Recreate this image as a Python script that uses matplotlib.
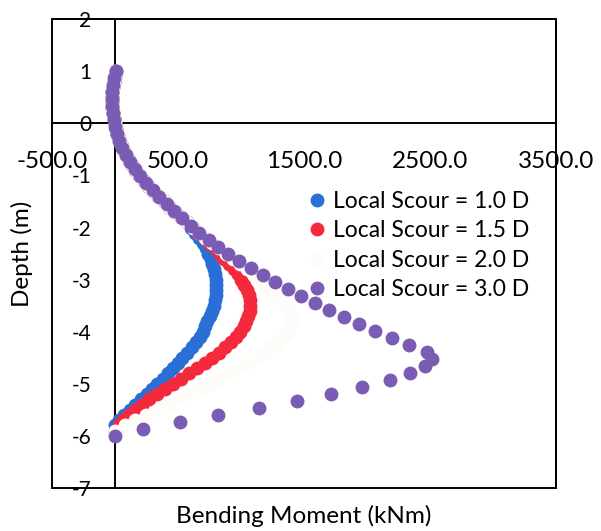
import matplotlib
matplotlib.use("Agg")
import matplotlib.pyplot as plt
from matplotlib.patches import Rectangle

plt.rcParams["font.family"] = ["Lato", "DejaVu Sans"]

# pile nodes (m): 0.1 m mesh for the first three runs, coarser mesh for 3.0 D
depth_fine = [1.0, 0.9, 0.8, 0.7, 0.6, 0.5, 0.4, 0.3, 0.2, 0.1,
              0.0, -0.1, -0.2, -0.3, -0.4, -0.5, -0.6, -0.7, -0.8, -0.9,
              -1.0, -1.1, -1.2, -1.3, -1.4, -1.5, -1.6, -1.7, -1.8, -1.9,
              -2.0, -2.1, -2.2, -2.3, -2.4, -2.5, -2.6, -2.7, -2.8, -2.9,
              -3.0, -3.1, -3.2, -3.3, -3.4, -3.5, -3.6, -3.7, -3.8, -3.9,
              -4.0, -4.1, -4.2, -4.3, -4.4, -4.5, -4.6, -4.7, -4.8, -4.9,
              -5.0, -5.1, -5.2, -5.3, -5.4, -5.5, -5.6, -5.7, -5.8, -5.9]
depth_coarse = [1.000, 0.865, 0.731, 0.596, 0.462, 0.327, 0.192, 0.058, -0.077, -0.212,
                -0.346, -0.481, -0.615, -0.750, -0.885, -1.019, -1.154, -1.288, -1.423, -1.558,
                -1.692, -1.827, -1.962, -2.096, -2.231, -2.365, -2.500, -2.635, -2.769, -2.904,
                -3.038, -3.173, -3.308, -3.442, -3.577, -3.712, -3.846, -3.981, -4.115, -4.250,
                -4.385, -4.519, -4.654, -4.788, -4.923, -5.058, -5.192, -5.327, -5.462, -5.596,
                -5.731, -5.865, -6.000]

# bending moment along the pile (kNm)
moment_10d = [8, -2, -10, -16, -20, -22, -22, -20, -16, -11,
              -3, 5, 15, 28, 44, 62, 84, 108, 134, 162,
              194, 229, 265, 303, 343, 385, 428, 473, 521, 570,
              605, 637, 667, 694, 718, 740, 758, 773, 785, 794,
              800, 803, 804, 800, 793, 782, 768, 752, 733, 711,
              700, 672, 641, 607, 572, 535, 497, 458, 418, 378,
              337, 293, 250, 205, 160, 115, 72, 32, 0]
moment_15d = [8, -2, -10, -16, -20, -22, -22, -20, -16, -11,
              -3, 5, 15, 28, 44, 62, 84, 108, 134, 162,
              194, 229, 265, 303, 343, 385, 428, 473, 521, 570,
              615, 660, 705, 748, 790, 830, 868, 905, 940, 972,
              1000, 1025, 1045, 1060, 1068, 1071, 1068, 1058, 1042, 1020,
              992, 958, 918, 873, 823, 768, 710, 650, 590, 525,
              460, 395, 333, 272, 215, 162, 112, 67, 28, 0]
moment_20d = [8, -2, -10, -16, -20, -22, -22, -20, -16, -11,
              -3, 5, 15, 28, 44, 62, 84, 108, 134, 162,
              194, 229, 265, 303, 343, 385, 428, 473, 521, 570,
              620, 668, 715, 770, 825, 880, 935, 990, 1045, 1095,
              1145, 1192, 1237, 1278, 1315, 1347, 1372, 1388, 1395, 1390,
              1370, 1335, 1290, 1238, 1180, 1118, 1052, 982, 908, 830,
              750, 668, 585, 500, 415, 330, 245, 160, 78, 0]
moment_30d = [8, -5, -14, -20, -22, -21, -16, -8, 3, 16, 35, 58, 87, 120, 158, 200, 248, 298,
              352, 410, 470, 535, 600, 670, 745, 820, 900, 985, 1075, 1175, 1270, 1373, 1476,
              1587, 1698, 1817, 1937, 2063, 2198, 2333, 2476, 2516, 2460, 2341, 2183, 1960,
              1714, 1444, 1143, 817, 516, 222, 0]

series = [
    ("Local Scour = 1.0 D", depth_fine, moment_10d, "#2a6fd6"),
    ("Local Scour = 1.5 D", depth_fine, moment_15d, "#f42a3c"),
    ("Local Scour = 2.0 D", depth_fine, moment_20d, "#fdfcf8"),
    ("Local Scour = 3.0 D", depth_coarse, moment_30d, "#7a5cb4"),
]

x_ticks = [-500, 500, 1500, 2500, 3500]
y_ticks = [2, 1, 0, -1, -2, -3, -4, -5, -6, -7]

fig = plt.figure(figsize=(6.01, 5.31), dpi=100)
ax = fig.add_axes([0.0865, 0.081, 0.839, 0.883])

for label, depth, moment, color in series:
    ax.plot(moment, depth[:len(moment)], linestyle="none", marker="o",
            markersize=10, markeredgewidth=0, color=color, label=label, zorder=3)

ax.set_xlim(-500, 3500)
ax.set_ylim(-7, 2)

# axes cross at the origin, with a box drawn around the plot area
ax.spines["left"].set_position(("data", 0))
ax.spines["bottom"].set_position(("data", 0))
for side in ["left", "bottom", "top", "right"]:
    ax.spines[side].set_linewidth(1.4)
    ax.spines[side].set_color("black")
ax.add_patch(Rectangle((0, 0), 1, 1, transform=ax.transAxes, fill=False,
                       linewidth=1.4, edgecolor="black", clip_on=False, zorder=2))

ax.set_xticks(x_ticks)
ax.set_xticklabels([f"{v:.1f}" for v in x_ticks], fontsize=17.5)
ax.set_yticks(y_ticks)
ax.set_yticklabels([str(v) for v in y_ticks], fontsize=15)
ax.tick_params(axis="x", length=0, pad=20)
ax.tick_params(axis="y", length=0, pad=17)

ax.set_xlabel("Bending Moment (kNm)", fontsize=17.5)
ax.set_ylabel("Depth (m)", fontsize=17.5)
ax.xaxis.set_label_coords(0.5, -0.036)
ax.yaxis.set_label_coords(-0.038, 0.5)

ax.legend(loc="upper left", bbox_to_anchor=(0.508, 0.634), frameon=False,
          fontsize=16.5, handlelength=0.8, handletextpad=0.3, labelspacing=0.37,
          borderaxespad=0, borderpad=0)

fig.savefig("out.png", dpi=100, facecolor="white")
